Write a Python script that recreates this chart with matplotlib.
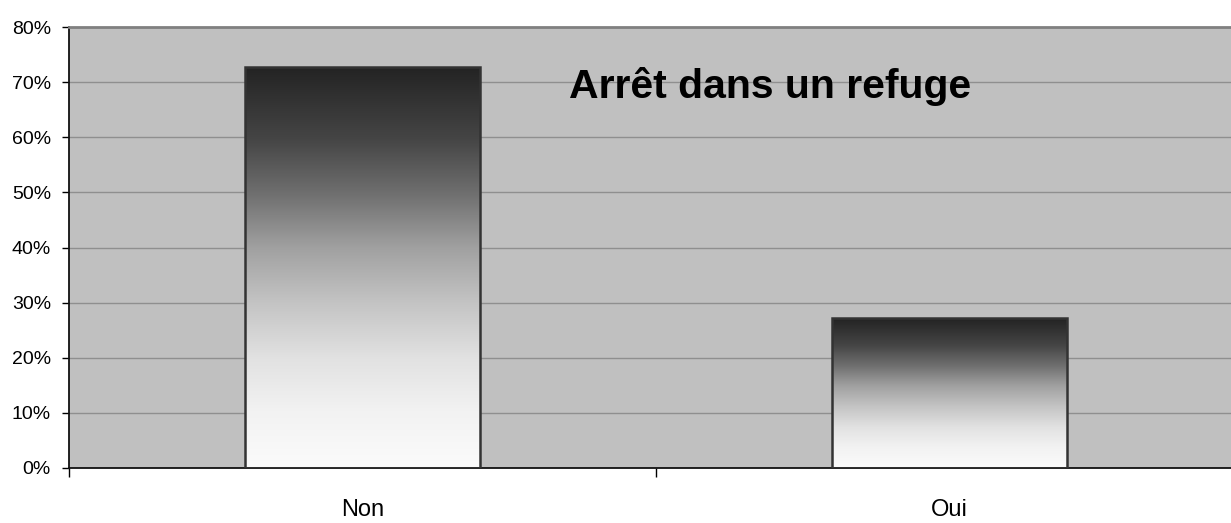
import numpy as np
import matplotlib.pyplot as plt
from matplotlib.colors import LinearSegmentedColormap
from matplotlib.ticker import PercentFormatter

categories = ['Non', 'Oui']
values = [72.8, 27.2]
title = 'Arrêt dans un refuge'

plt.rcParams['font.family'] = ['Liberation Sans', 'DejaVu Sans']

# top of bar (0) -> bottom (1)
grad = LinearSegmentedColormap.from_list('bar', [
    (0.0, '#232323'), (0.18, '#454545'), (0.32, '#707070'),
    (0.45, '#a0a0a0'), (0.59, '#c4c4c4'), (0.73, '#e2e2e2'),
    (0.86, '#f2f2f2'), (1.0, '#fbfbfb')])

fig = plt.figure(figsize=(12.31, 5.23), dpi=100)
# plot area runs slightly past the right edge of the image
ax = fig.add_axes([69/1231, 55/523, (1243 - 69)/1231, 441/523])
ax.set_facecolor('#c0c0c0')

x = np.arange(len(categories))
bars = ax.bar(x, values, width=0.40, facecolor='none',
              edgecolor='#333333', linewidth=1.8, zorder=3)
ramp = np.linspace(0, 1, 256).reshape(-1, 1)
for b in bars:
    x0, y0 = b.get_x(), b.get_y()
    im = ax.imshow(ramp, cmap=grad, aspect='auto', origin='upper',
                   extent=(x0, x0 + b.get_width(), y0, y0 + b.get_height()),
                   zorder=2)
    im.set_clip_path(b)

ax.set_xlim(-0.5, 1.5)
ax.set_ylim(0, 80)
ax.set_yticks(np.arange(0, 81, 10))
ax.yaxis.set_major_formatter(PercentFormatter(decimals=0))
ax.grid(axis='y', color='#8f8f8f', linewidth=1, zorder=1)
ax.set_axisbelow(True)

ax.set_xticks(x)
ax.set_xticklabels(categories)
ax.set_xticks([-0.5, 0.5, 1.5], minor=True)
ax.tick_params(axis='x', which='major', length=0, pad=22, labelsize=17)
ax.tick_params(axis='x', which='minor', length=6.5, width=1, direction='out')
ax.tick_params(axis='y', length=5, width=1, labelsize=14, pad=8)

for s in ['left', 'bottom']:
    ax.spines[s].set_color('#111111')
    ax.spines[s].set_linewidth(1.3)
ax.spines['top'].set_color('#808080')
ax.spines['top'].set_linewidth(2)
ax.spines['right'].set_visible(False)

ax.text(0.352, 67.1, title, fontsize=29.5, fontweight='bold',
        ha='left', va='baseline', zorder=4)

fig.savefig('out.png', dpi=100)
